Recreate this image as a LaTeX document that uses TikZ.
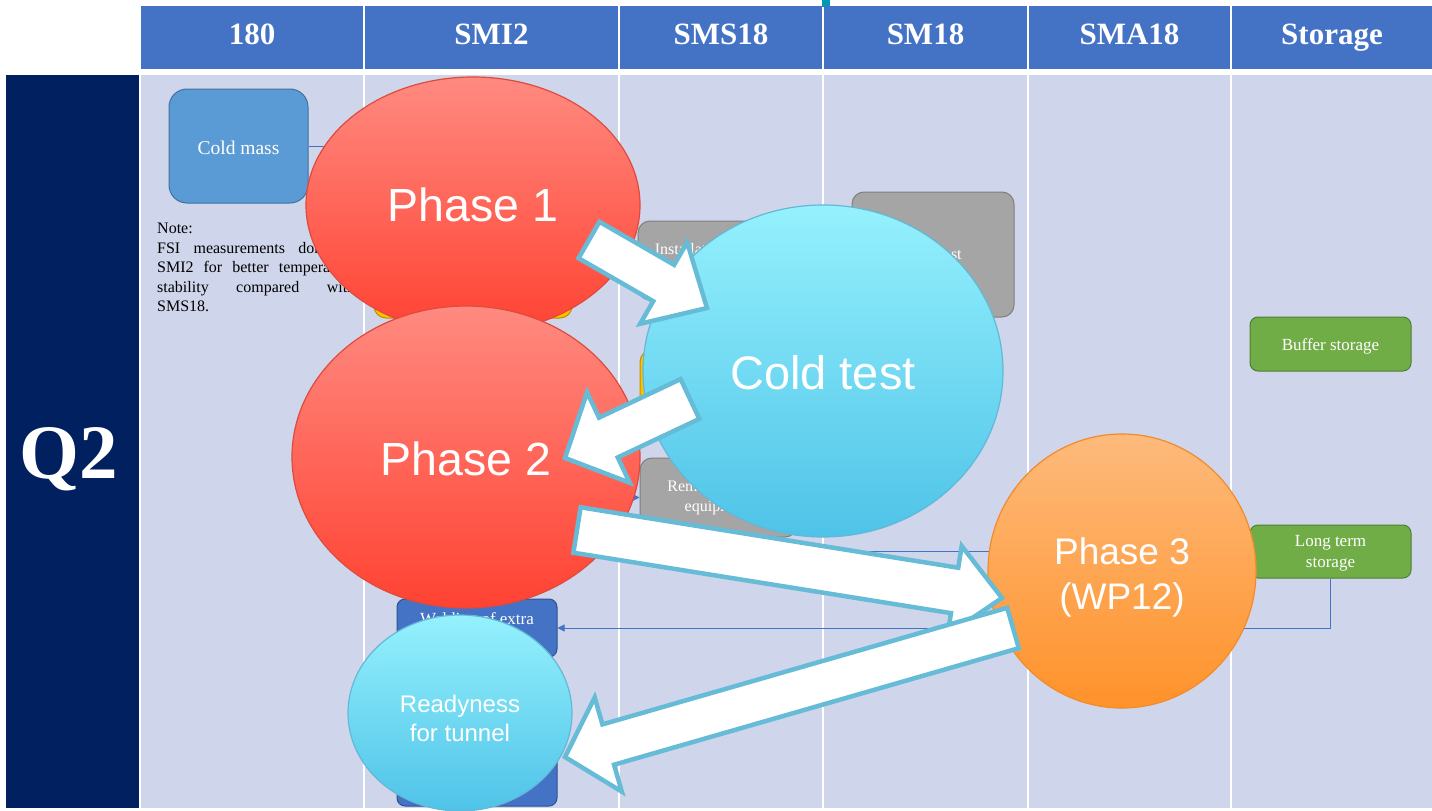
\documentclass[tikz,border=0pt]{standalone}
\usepackage{fontspec}
\setmainfont{Liberation Serif}
\newfontfamily\arialf{Liberation Sans}
\usetikzlibrary{shapes.geometric,arrows.meta,calc}
\definecolor{hdrc}{HTML}{4472C4}
\definecolor{bodyc}{HTML}{CFD5EA}
\definecolor{navyc}{HTML}{002060}
\definecolor{tealc}{HTML}{0097B8}
\definecolor{cmfill}{HTML}{5B9BD5}
\definecolor{cmdraw}{HTML}{41719C}
\definecolor{goldfill}{HTML}{FFC000}
\definecolor{golddraw}{HTML}{BF9000}
\definecolor{grayfill}{HTML}{A5A5A5}
\definecolor{graydraw}{HTML}{7F7F7F}
\definecolor{grnfill}{HTML}{70AD47}
\definecolor{grndraw}{HTML}{507E32}
\definecolor{bluedraw}{HTML}{2F528F}
\definecolor{redtop}{HTML}{FF8A80}
\definecolor{redbot}{HTML}{FF4232}
\definecolor{reddraw}{HTML}{DE4A3C}
\definecolor{cyantop}{HTML}{95F1FD}
\definecolor{cyanbot}{HTML}{4FC3E8}
\definecolor{cyandraw}{HTML}{62B8D6}
\definecolor{orgtop}{HTML}{FDBA7C}
\definecolor{orgbot}{HTML}{FF922A}
\definecolor{orgdraw}{HTML}{F38B2A}
\definecolor{arrowc}{HTML}{66BCD7}
\newcommand\blockarrow[5]{%
  \path ($(#2)!#5!(#1)$) coordinate (bb);
  \draw[barrow] ($(#1)!#3!90:(#2)$) -- ($(bb)!#3!90:(#2)$) -- ($(bb)!#4!90:(#2)$) -- (#2)
     -- ($(bb)!#4!-90:(#2)$) -- ($(bb)!#3!-90:(#2)$) -- ($(#1)!#3!-90:(#2)$) -- cycle;}
\begin{document}
\begin{tikzpicture}[x=1pt,y=-1pt,
  hcell/.style={fill=hdrc, inner sep=0, minimum height=63pt, text=white,
     font=\fontsize{31}{36}\selectfont\bfseries, text height=20pt, text depth=7pt},
  bcell/.style={fill=bodyc, inner sep=0, minimum height=733pt},
  box/.style={rounded corners=12pt, inner sep=2pt, align=center, text=white,
     font=\fontsize{17}{21}\selectfont, line width=1pt},
  btext/.style={text=white, align=center, inner sep=0, font=\fontsize{17}{21}\selectfont},
  graybox/.style={box, fill=grayfill, draw=graydraw, font=\fontsize{16}{19.5}\selectfont},
  goldbox/.style={box, fill=goldfill, draw=golddraw},
  grnbox/.style={box, fill=grnfill, draw=grndraw, rounded corners=8pt},
  bluebox/.style={box, fill=hdrc, draw=bluedraw, rounded corners=8pt},
  thin/.style={draw=hdrc, line width=1pt},
  thinarrow/.style={thin, -{Triangle[length=7pt,width=7pt]}},
  blob/.style={ellipse, inner sep=0, line width=1.2pt},
  btxt/.style={text=white, align=center, inner sep=0},
  redblob/.style={blob, top color=redtop, bottom color=redbot, draw=reddraw},
  cyanblob/.style={blob, top color=cyantop, bottom color=cyanbot, draw=cyandraw},
  orgblob/.style={blob, top color=orgtop, bottom color=orgbot, draw=orgdraw},
  bigfont/.style={font=\arialf\fontsize{46.5}{52}\selectfont},
  barrow/.style={draw=arrowc, fill=white, line width=4.5pt, line join=miter}
]
\useasboundingbox (0,0) rectangle (1432,811);
\fill[white] (0,0) rectangle (1432,811);
\fill[tealc] (822,0) rectangle (830,7);
% header
\node[hcell, minimum width=222pt] (h1) at (252,37.5) {180};
\node[hcell, minimum width=253pt] (h2) at (491.5,37.5) {SMI2};
\node[hcell, minimum width=202pt] (h3) at (721,37.5) {SMS18};
\node[hcell, minimum width=203pt] (h4) at (925.5,37.5) {SM18};
\node[hcell, minimum width=201pt] (h5) at (1129.5,37.5) {SMA18};
\node[hcell, minimum width=200pt] (h6) at (1332,37.5) {Storage};
% body
\node[bcell, minimum width=222pt] (b1) at (252,441.5) {};
\node[bcell, minimum width=253pt] (b2) at (491.5,441.5) {};
\node[bcell, minimum width=202pt] (b3) at (721,441.5) {};
\node[bcell, minimum width=203pt] (b4) at (925.5,441.5) {};
\node[bcell, minimum width=201pt] (b5) at (1129.5,441.5) {};
\node[bcell, minimum width=200pt] (b6) at (1332,441.5) {};
% lane
\node[fill=navyc, inner sep=0, minimum width=133pt, minimum height=733pt] (lane) at (72.5,441.5) {};
\node[anchor=base, text=white, inner sep=0, font=\fontsize{77}{80}\selectfont\bfseries] (q2) at (69,478) {Q2};
% process boxes
\node[box, fill=cmfill, draw=cmdraw, rounded corners=18pt, minimum width=139pt, minimum height=114pt,
      label={[btext, font=\fontsize{19.5}{23}\selectfont, yshift=-2pt]center:Cold mass}] (cm) at (238.5,146) {};
\node[goldbox, minimum width=198pt, minimum height=68pt] (g1) at (473,284) {};
\node[goldbox, minimum width=160pt, minimum height=70pt] (g2) at (720,385) {};
\node[graybox, minimum width=150pt, minimum height=79pt] (inst) at (713,260.5) {Installation of FSI\\equipment};
\node[graybox, minimum width=162pt, minimum height=125pt] (sm18) at (933,254.5) {Cold test};
\node[graybox, minimum width=157pt, minimum height=79pt] (rem) at (718.5,497.5) {Removal of FSI\\equipment};
\node[grnbox, minimum width=161pt, minimum height=54pt,
      label={[btext, yshift=-2pt]center:Buffer storage}] (buf) at (1330.5,344) {};
\node[grnbox, minimum width=161pt, minimum height=53pt,
      label={[btext, yshift=-2pt]center:{Long term\\storage}}] (lts) at (1330.5,551.5) {};
\node[bluebox, minimum width=160pt, minimum height=58pt,
      label={[btext, yshift=-3pt]center:{Welding of extra\\supports}}] (weld) at (477,628) {};
\node[bluebox, minimum width=160pt, minimum height=116pt] (blue2) at (477,748) {};
% thin connectors
\coordinate (cmout) at (340,146);
\draw[thin] (cm.east) -- (cmout);
\coordinate (c497) at (600,497.5);
\draw[thinarrow] (c497) -- (rem.west);
\coordinate (c552) at (650,551.5);
\draw[thinarrow] (c552) -- (lts.west);
\draw[thinarrow] (lts.south) |- (weld.east);
% note
\node[anchor=north west, text width=198pt, align=justify, inner sep=0,
      font=\fontsize{16}{19.5}\selectfont,
      execute at begin node={\hyphenpenalty=10000\relax}] (note) at (157,223)
  {Note:\\FSI measurements done in SMI2 for better temperature stability compared with SMS18.};
% phases
\node[redblob, minimum width=334pt, minimum height=256pt,
      label={[btxt, bigfont]center:Phase 1}] (ph1) at (473,205) {};
\node[redblob, minimum width=348pt, minimum height=302pt,
      label={[btxt, bigfont, yshift=-2pt]center:Phase 2}] (ph2) at (466,457) {};
\node[cyanblob, minimum width=360pt, minimum height=332pt,
      label={[btxt, font=\arialf\fontsize{47}{52}\selectfont, yshift=-2pt]center:Cold test}] (ct) at (823,371) {};
\node[orgblob, minimum width=268pt, minimum height=274pt,
      label={[btxt, font=\arialf\fontsize{37}{45}\selectfont, yshift=-6pt]center:{Phase 3\\(WP12)}}] (ph3) at (1122,571) {};
\node[cyanblob, minimum width=224pt, minimum height=196pt,
      label={[btxt, font=\arialf\fontsize{24}{29}\selectfont, yshift=-5pt]center:{Readyness\\for tunnel}}] (rdy) at (460,713) {};
% block arrows
\coordinate (a1t) at (589,240); \coordinate (a1h) at (707,308);
\blockarrow{a1t}{a1h}{21pt}{47pt}{50pt}
\coordinate (a2t) at (690,399); \coordinate (a2h) at (565,458);
\blockarrow{a2t}{a2h}{22pt}{50pt}{48pt}
\coordinate (a3t) at (577,530); \coordinate (a3h) at (1002,598);
\blockarrow{a3t}{a3h}{23pt}{45pt}{48pt}
\coordinate (a4t) at (1013,628); \coordinate (a4h) at (565,757);
\blockarrow{a4t}{a4h}{21pt}{49pt}{45pt}
\end{tikzpicture}
\end{document}
